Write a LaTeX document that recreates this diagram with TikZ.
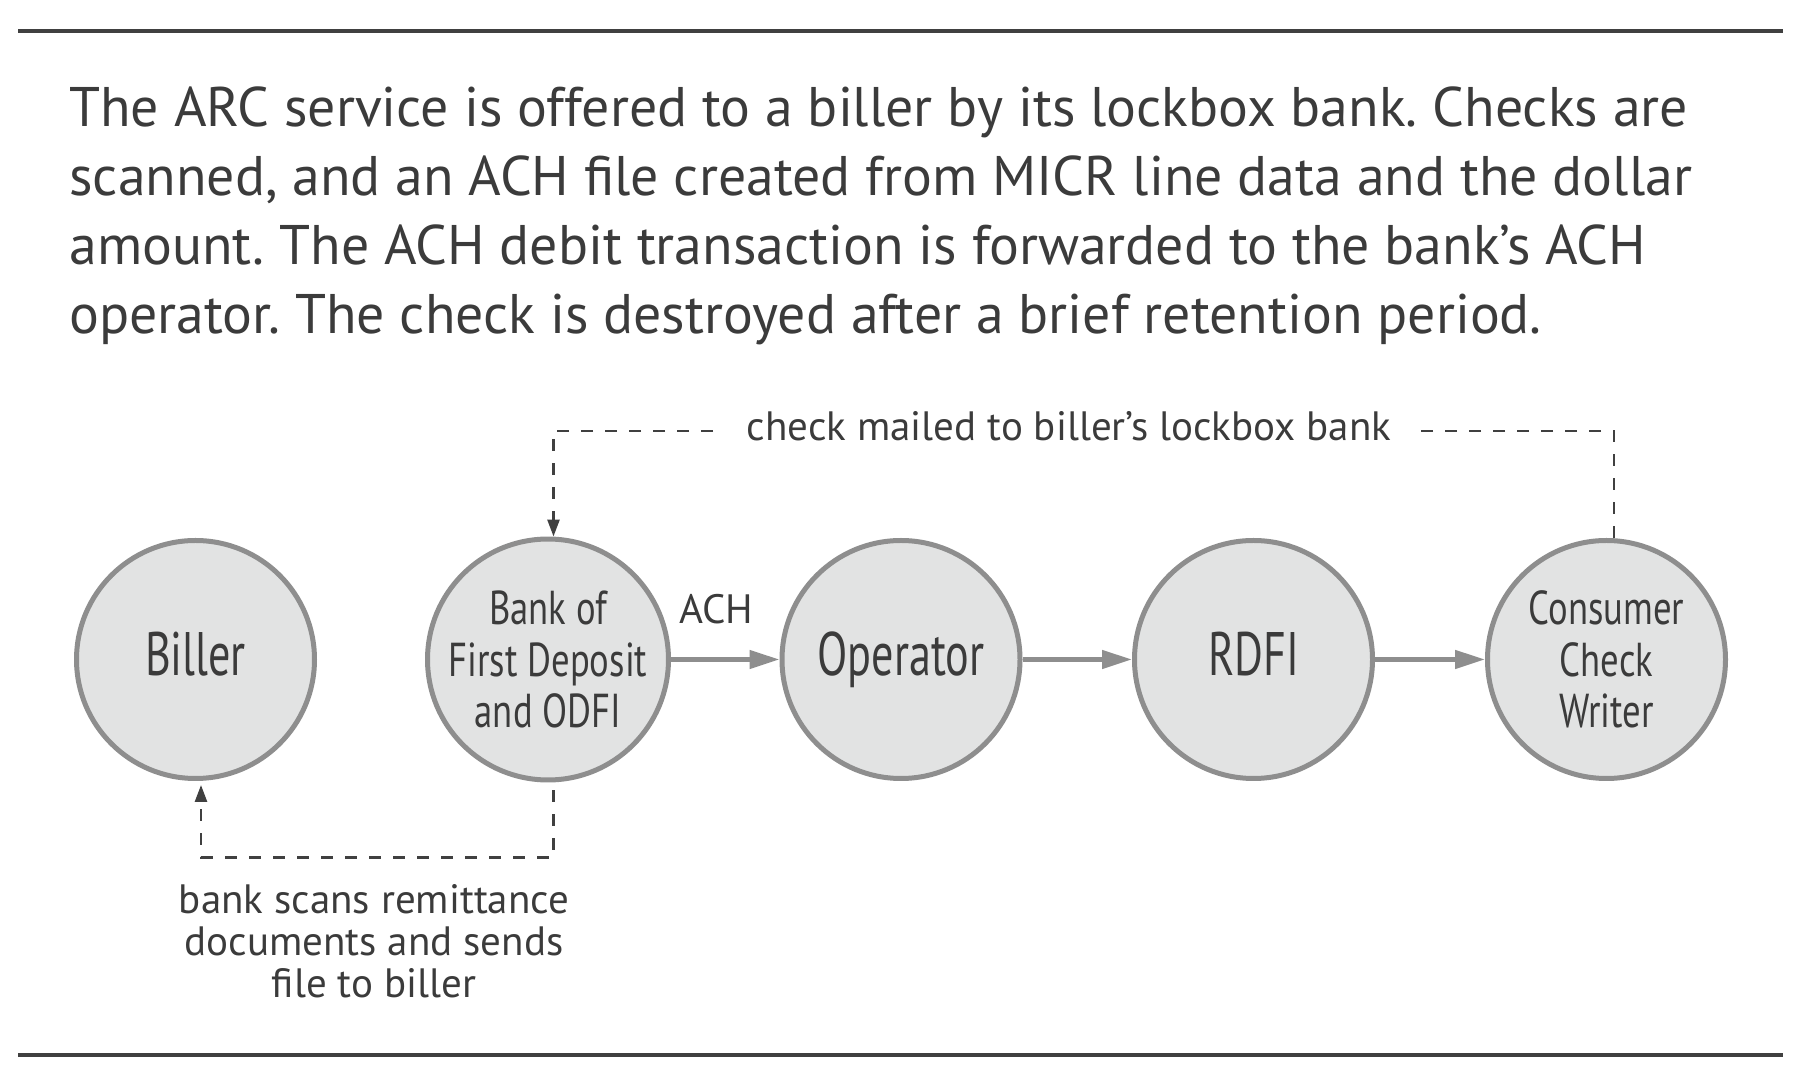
\documentclass[tikz,border=0pt]{standalone}
\usepackage{fontspec}
\setmainfont{PT Sans}
\newfontfamily\bodyfont{PT Sans}
\newfontfamily\condfont[FakeStretch=0.72]{PT Sans}
\newfontfamily\condfontb[FakeStretch=0.77]{PT Sans}
\usetikzlibrary{arrows.meta}
\definecolor{ink}{HTML}{3B3B3B}
\definecolor{rulec}{HTML}{404040}
\definecolor{circfill}{HTML}{E2E3E3}
\definecolor{circline}{HTML}{8E8E8E}
\tikzset{
  party/.style={circle, draw=circline, fill=circfill, line width=2.5pt,
    minimum size=119pt, inner sep=0pt, text=ink, align=center},
  bigname/.style={party, font=\condfont\fontsize{30.7pt}{30.7pt}\selectfont,
    text height=21.5pt, text depth=5pt},
  smallname/.style={party, font=\condfontb\fontsize{23.8pt}{25.9pt}\selectfont},
  flow/.style={draw=circline, line width=2.4pt, -{Triangle[length=15pt,width=9pt]}},
  dsh/.style={draw=rulec, line width=1.3pt, dash pattern=on 6pt off 6pt},
  dtip/.style={-{Triangle[length=8.5pt,width=6pt]}},
  rulestyle/.style={draw=rulec, line width=2pt},
  note/.style={text=ink, font=\bodyfont\frenchspacing\fontsize{20.5pt}{21pt}\selectfont, inner sep=0pt},
}
\begin{document}
\begin{tikzpicture}[x=0.5pt,y=-0.5pt]
\useasboundingbox[fill=white] (0,0) rectangle (1812,1090);
% rules
\draw[rulestyle] (18,31) -- (1783,31);
\draw[rulestyle] (18,1055) -- (1783,1055);
% paragraph (base anchor = last line)
\node[anchor=base west, inner sep=0pt, text=ink, align=left,
  font=\bodyfont\frenchspacing\fontsize{27.9pt}{34.65pt}\selectfont] (para) at (69,334)
  {The ARC service is offered to a biller by its lockbox bank. Checks are\\
   scanned, and an ACH file created from MICR line data and the dollar\\
   amount. The ACH debit transaction is forwarded to the bank’s ACH\\
   operator. The check is destroyed after a brief retention period.};
% parties
\node[bigname] (biller) at (195.5,659.5) {Biller};
\node[smallname] (bank) at (548,659.5) {Bank of\\First Deposit\\and ODFI};
\node[bigname] (op) at (901,659.5) {Operator};
\node[bigname] (rdfi) at (1253.5,659.5) {RDFI};
\node[smallname] (cons) at (1606.5,659.5) {Consumer\\Check\\Writer};
% flows
\draw[flow] (bank) -- (op);
\draw[flow] (op) -- (rdfi);
\draw[flow] (rdfi) -- (cons);
\node[note, anchor=base] (ach) at (716.5,624) {ACH};
% check mailed
\draw[dsh, dtip] ([xshift=3.75pt]cons.north) -- ++(0,-107) -| ([xshift=2.75pt]bank.north);
\node[note, anchor=base, fill=white, inner xsep=14pt, inner ysep=2pt] (mail) at (1069,441)
  {check mailed to biller’s lockbox bank};
% scans
\draw[dsh, dtip] ([xshift=2.75pt,yshift=-4pt]bank.south) -- ++(0,67) -| ([xshift=2.75pt,yshift=-2pt]biller.south);
\node[note, anchor=base, align=center] (scan) at (374,998)
  {bank scans remittance\\documents and sends\\file to biller};
\end{tikzpicture}
\end{document}
